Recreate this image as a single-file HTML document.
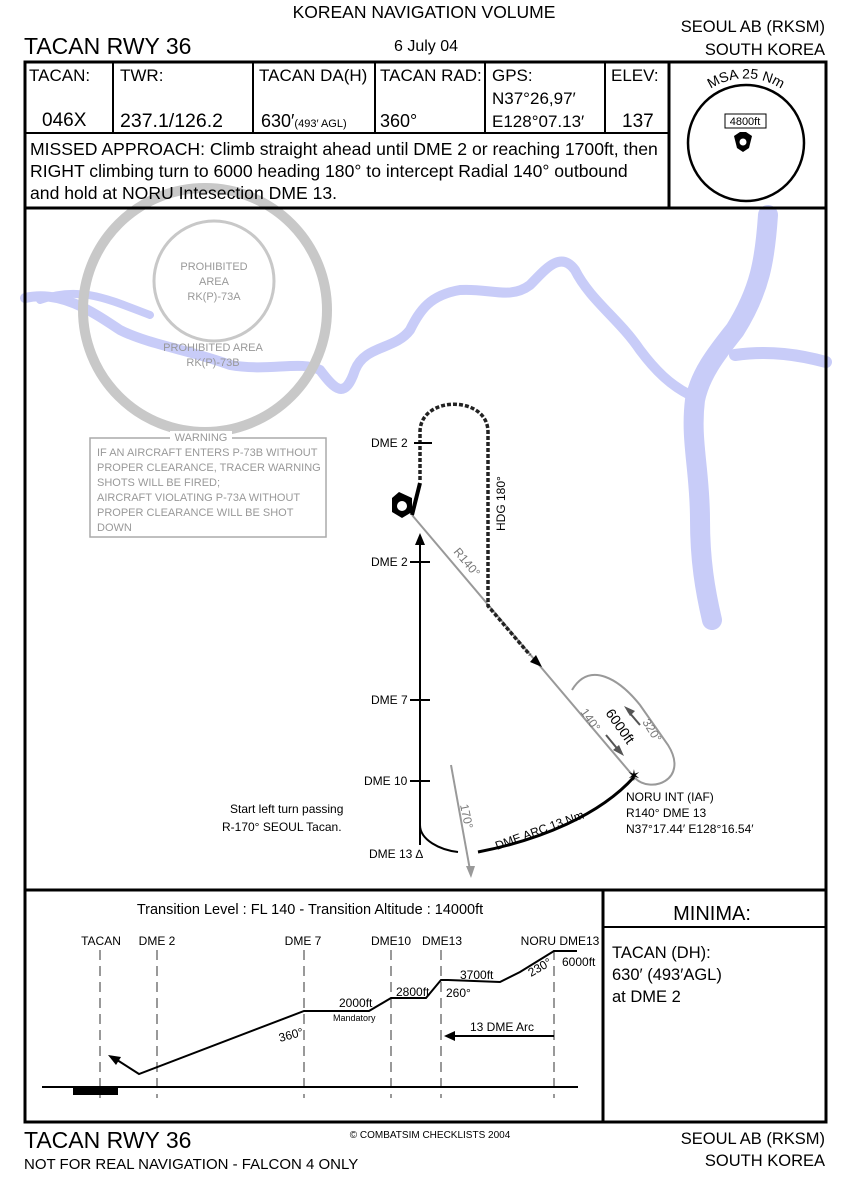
<!DOCTYPE html>
<html><head><meta charset="utf-8"><style>
html,body{margin:0;padding:0;background:#fff}
svg{display:block}
text{font-family:"Liberation Sans",sans-serif}
</style></head><body>
<svg width="850" height="1181" viewBox="0 0 850 1181" xmlns="http://www.w3.org/2000/svg">
<defs><path id="msaarc" d="M686,120 A64,64 0 0 1 806,120"/></defs>
<rect width="850" height="1181" fill="#fff"/>
<!-- header -->
<text x="424" y="18" font-size="17.5" text-anchor="middle">KOREAN NAVIGATION VOLUME</text>
<text x="24" y="54" font-size="23">TACAN RWY 36</text>
<text x="426" y="51" font-size="16" text-anchor="middle">6 July 04</text>
<text x="825" y="32" font-size="16.5" text-anchor="end">SEOUL AB (RKSM)</text>
<text x="825" y="55" font-size="16.5" text-anchor="end">SOUTH KOREA</text>

<!-- river -->
<g fill="none" stroke="#c8ccf8" stroke-linecap="round" stroke-linejoin="round">
<path d="M25,298 C60,290 90,310 120,330 C150,345 190,350 230,365 C270,372 300,360 320,370 C335,390 345,400 355,370 C365,345 395,350 410,330 C420,310 430,295 460,290 C490,288 510,300 530,285 C545,270 560,250 575,270 C590,300 620,320 640,350 C655,370 670,385 690,395" stroke-width="10"/>
<path d="M40,300 C80,285 110,300 150,315" stroke-width="8"/>
<path d="M768,215 C765,260 760,290 735,330 C715,355 700,375 695,400 C690,440 700,470 700,520 C700,560 705,590 712,620" stroke-width="20"/>
<path d="M735,355 C770,350 800,355 826,362" stroke-width="12"/>
</g>

<!-- prohibited areas -->
<circle cx="205" cy="310" r="122" fill="none" stroke="#c8c8c8" stroke-width="10"/>
<circle cx="214" cy="281" r="60" fill="none" stroke="#c8c8c8" stroke-width="3"/>
<g fill="#999" font-size="11" text-anchor="middle">
<text x="214" y="270">PROHIBITED</text><text x="214" y="285">AREA</text><text x="214" y="300">RK(P)-73A</text>
<text x="213" y="351">PROHIBITED AREA</text><text x="213" y="366">RK(P)-73B</text>
</g>
<rect x="90" y="438" width="236" height="99" fill="none" stroke="#aaa" stroke-width="1.5"/>
<rect x="170" y="431" width="62" height="12" fill="#fff"/>
<g fill="#999" font-size="11">
<text x="201" y="441" text-anchor="middle">WARNING</text>
<text x="97" y="456">IF AN AIRCRAFT ENTERS P-73B WITHOUT</text>
<text x="97" y="471">PROPER CLEARANCE, TRACER WARNING</text>
<text x="97" y="486">SHOTS WILL BE FIRED;</text>
<text x="97" y="501">AIRCRAFT VIOLATING P-73A WITHOUT</text>
<text x="97" y="516">PROPER CLEARANCE WILL BE SHOT</text>
<text x="97" y="531">DOWN</text>
</g>

<!-- approach -->
<g fill="none">
<line x1="412" y1="515" x2="634" y2="777" stroke="#999" stroke-width="2"/>
<path d="M420,480 L420,432 C420,395 488,395 488,432 L488,606 L530,655" stroke="#222" stroke-width="3.5" stroke-dasharray="4,2"/>
<path d="M572,690 C590,660 620,680 640,705 L668,745 C690,780 650,795 634,777" stroke="#999" stroke-width="2"/>
<line x1="412" y1="515" x2="420" y2="483" stroke="#000" stroke-width="4"/>
<line x1="420" y1="845" x2="420" y2="540" stroke="#000" stroke-width="2"/>
<path d="M420,825 C420,840 440,850 458,852" stroke="#000" stroke-width="2"/>
<path d="M478,852 C540,840 600,815 634,777" stroke="#000" stroke-width="3"/>
<line x1="451" y1="765" x2="470" y2="870" stroke="#999" stroke-width="2"/>
<line x1="606" y1="735" x2="620" y2="752" stroke="#555" stroke-width="2"/>
<line x1="640" y1="725" x2="628" y2="711" stroke="#555" stroke-width="2"/>
</g>
<polygon points="420,533 415,545 425,545" fill="#000"/>
<polygon points="542,667 530,662 536,655" fill="#000"/>
<polygon points="471,878 466,866 475,866" fill="#999"/>
<polygon points="624,756 613,750 619,745" fill="#555"/>
<polygon points="624,706 635,711 630,716" fill="#555"/>
<text x="634" y="781" font-size="16" text-anchor="middle">✶</text>
<g stroke="#000" stroke-width="2">
<line x1="414" y1="443" x2="432" y2="443"/>
<line x1="410" y1="562" x2="430" y2="562"/>
<line x1="410" y1="700" x2="430" y2="700"/>
<line x1="410" y1="781" x2="430" y2="781"/>
</g>
<!-- tacan symbol -->
<g transform="translate(402,506)">
<polygon points="-10,-8 -3,-14 10,-8 10,6 0,12 -10,6" fill="#000"/>
<circle cx="0" cy="0" r="5" fill="#fff"/>
</g>
<g font-size="12">
<text x="371" y="447">DME 2</text>
<text x="371" y="566">DME 2</text>
<text x="371" y="704">DME 7</text>
<text x="364" y="785">DME 10</text>
<text x="369" y="858">DME 13 ∆</text>
<text x="230" y="813">Start left turn passing</text>
<text x="222" y="831">R-170° SEOUL Tacan.</text>
<text x="626" y="801">NORU INT (IAF)</text>
<text x="626" y="817">R140° DME 13</text>
<text x="626" y="833">N37°17.44′ E128°16.54′</text>
</g>
<text transform="translate(505,531) rotate(-90)" font-size="12">HDG 180°</text>
<text transform="translate(453,552) rotate(50)" font-size="12" fill="#777">R140°</text>
<text transform="translate(580,712) rotate(55)" font-size="12" fill="#777">140°</text>
<text transform="translate(605,713) rotate(55)" font-size="14">6000ft</text>
<text transform="translate(642,722) rotate(58)" font-size="12" fill="#777">320°</text>
<text transform="translate(460,805) rotate(78)" font-size="12" fill="#777">170°</text>
<text transform="translate(497,850) rotate(-20)" font-size="12">DME ARC 13 Nm</text>

<!-- frame -->
<g stroke="#000" fill="none" stroke-width="3">
<rect x="25" y="62" width="801" height="1060"/>
<line x1="25" y1="208" x2="826" y2="208"/>
<line x1="25" y1="133" x2="669" y2="133" stroke-width="2"/>
<line x1="669" y1="62" x2="669" y2="208"/>
<line x1="25" y1="890" x2="826" y2="890"/>
<line x1="603" y1="890" x2="603" y2="1122"/>
<line x1="603" y1="927" x2="826" y2="927" stroke-width="2"/>
</g>
<g stroke="#000" stroke-width="2">
<line x1="113" y1="62" x2="113" y2="133"/><line x1="253" y1="62" x2="253" y2="133"/>
<line x1="375" y1="62" x2="375" y2="133"/><line x1="485" y1="62" x2="485" y2="133"/>
<line x1="605" y1="62" x2="605" y2="133"/>
</g>
<g font-size="17">
<text x="29" y="81">TACAN:</text><text x="42" y="126" font-size="19">046X</text>
<text x="120" y="81">TWR:</text><text x="120" y="127" font-size="19.5">237.1/126.2</text>
<text x="259" y="81">TACAN DA(H)</text><text x="261" y="127" font-size="18">630′<tspan font-size="11">(493′ AGL)</tspan></text>
<text x="380" y="81">TACAN RAD:</text><text x="380" y="127" font-size="18">360°</text>
<text x="492" y="81">GPS:</text><text x="492" y="104">N37°26,97′</text><text x="492" y="127">E128°07.13′</text>
<text x="611" y="81">ELEV:</text><text x="622" y="127" font-size="19">137</text>
</g>
<g font-size="17.6">
<text x="30" y="155">MISSED APPROACH: Climb straight ahead until DME 2 or reaching 1700ft, then</text>
<text x="30" y="177">RIGHT climbing turn to 6000 heading 180° to intercept Radial 140° outbound</text>
<text x="30" y="199">and hold at NORU Intesection DME 13.</text>
</g>
<!-- MSA -->
<circle cx="746" cy="143" r="58" fill="none" stroke="#000" stroke-width="2.5"/>
<text font-size="14"><textPath href="#msaarc" startOffset="50%" text-anchor="middle">MSA 25 Nm</textPath></text>
<rect x="725" y="114" width="41" height="14" fill="none" stroke="#000"/>
<text x="745" y="125" font-size="11" text-anchor="middle">4800ft</text>
<g transform="translate(743,142)">
<polygon points="-9,-6 -3,-10 3,-10 9,-6 6,6 0,10 -6,6" fill="#000"/>
<circle r="3.5" fill="#fff"/>
</g>

<!-- profile -->
<text x="310" y="914" font-size="14.5" text-anchor="middle">Transition Level : FL 140  -  Transition Altitude : 14000ft</text>
<g font-size="12" text-anchor="middle">
<text x="101" y="945">TACAN</text><text x="157" y="945">DME 2</text><text x="303" y="945">DME 7</text>
<text x="391" y="945">DME10</text><text x="442" y="945">DME13</text><text x="560" y="945">NORU DME13</text>
</g>
<g stroke="#999" stroke-width="2" stroke-dasharray="10,6">
<line x1="100" y1="950" x2="100" y2="1098"/><line x1="157" y1="950" x2="157" y2="1098"/>
<line x1="304" y1="950" x2="304" y2="1098"/><line x1="391" y1="950" x2="391" y2="1098"/>
<line x1="441" y1="950" x2="441" y2="1098"/><line x1="554" y1="950" x2="554" y2="1098"/>
</g>
<line x1="42" y1="1087" x2="578" y2="1087" stroke="#000" stroke-width="2"/>
<rect x="73" y="1087" width="45" height="8" fill="#000"/>
<polyline points="114,1058 139,1074 304,1011 334,1011 369,1011 391,998 405,998 426,998 441,980 448,980 500,982 520,972 554,951 577,951" fill="none" stroke="#000" stroke-width="2"/>
<polygon points="108,1055 121,1057 116,1065" fill="#000"/>
<line x1="554" y1="1036" x2="452" y2="1036" stroke="#000" stroke-width="2"/>
<polygon points="444,1036 455,1031 455,1041" fill="#000"/>
<g font-size="12">
<text x="339" y="1007">2000ft</text><text x="333" y="1021" font-size="9">Mandatory</text>
<text x="396" y="996">2800ft</text><text x="446" y="997">260°</text>
<text x="460" y="979">3700ft</text><text x="562" y="966">6000ft</text>
<text x="470" y="1031">13 DME Arc</text>
<text x="280" y="1042" transform="rotate(-15 280 1042)">360°</text>
<text x="531" y="977" transform="rotate(-30 531 977)">230°</text>
</g>
<!-- minima -->
<text x="712" y="920" font-size="20" text-anchor="middle">MINIMA:</text>
<text x="612" y="958" font-size="16.5">TACAN (DH):</text>
<text x="612" y="980" font-size="16.5">630′ (493′AGL)</text>
<text x="612" y="1002" font-size="16.5">at DME 2</text>
<!-- footer -->
<text x="24" y="1148" font-size="23">TACAN RWY 36</text>
<text x="24" y="1169" font-size="15">NOT FOR REAL NAVIGATION - FALCON 4 ONLY</text>
<text x="430" y="1138" font-size="10" text-anchor="middle">© COMBATSIM CHECKLISTS 2004</text>
<text x="825" y="1144" font-size="16.5" text-anchor="end">SEOUL AB (RKSM)</text>
<text x="825" y="1166" font-size="16.5" text-anchor="end">SOUTH KOREA</text>
</svg>
</body></html>
